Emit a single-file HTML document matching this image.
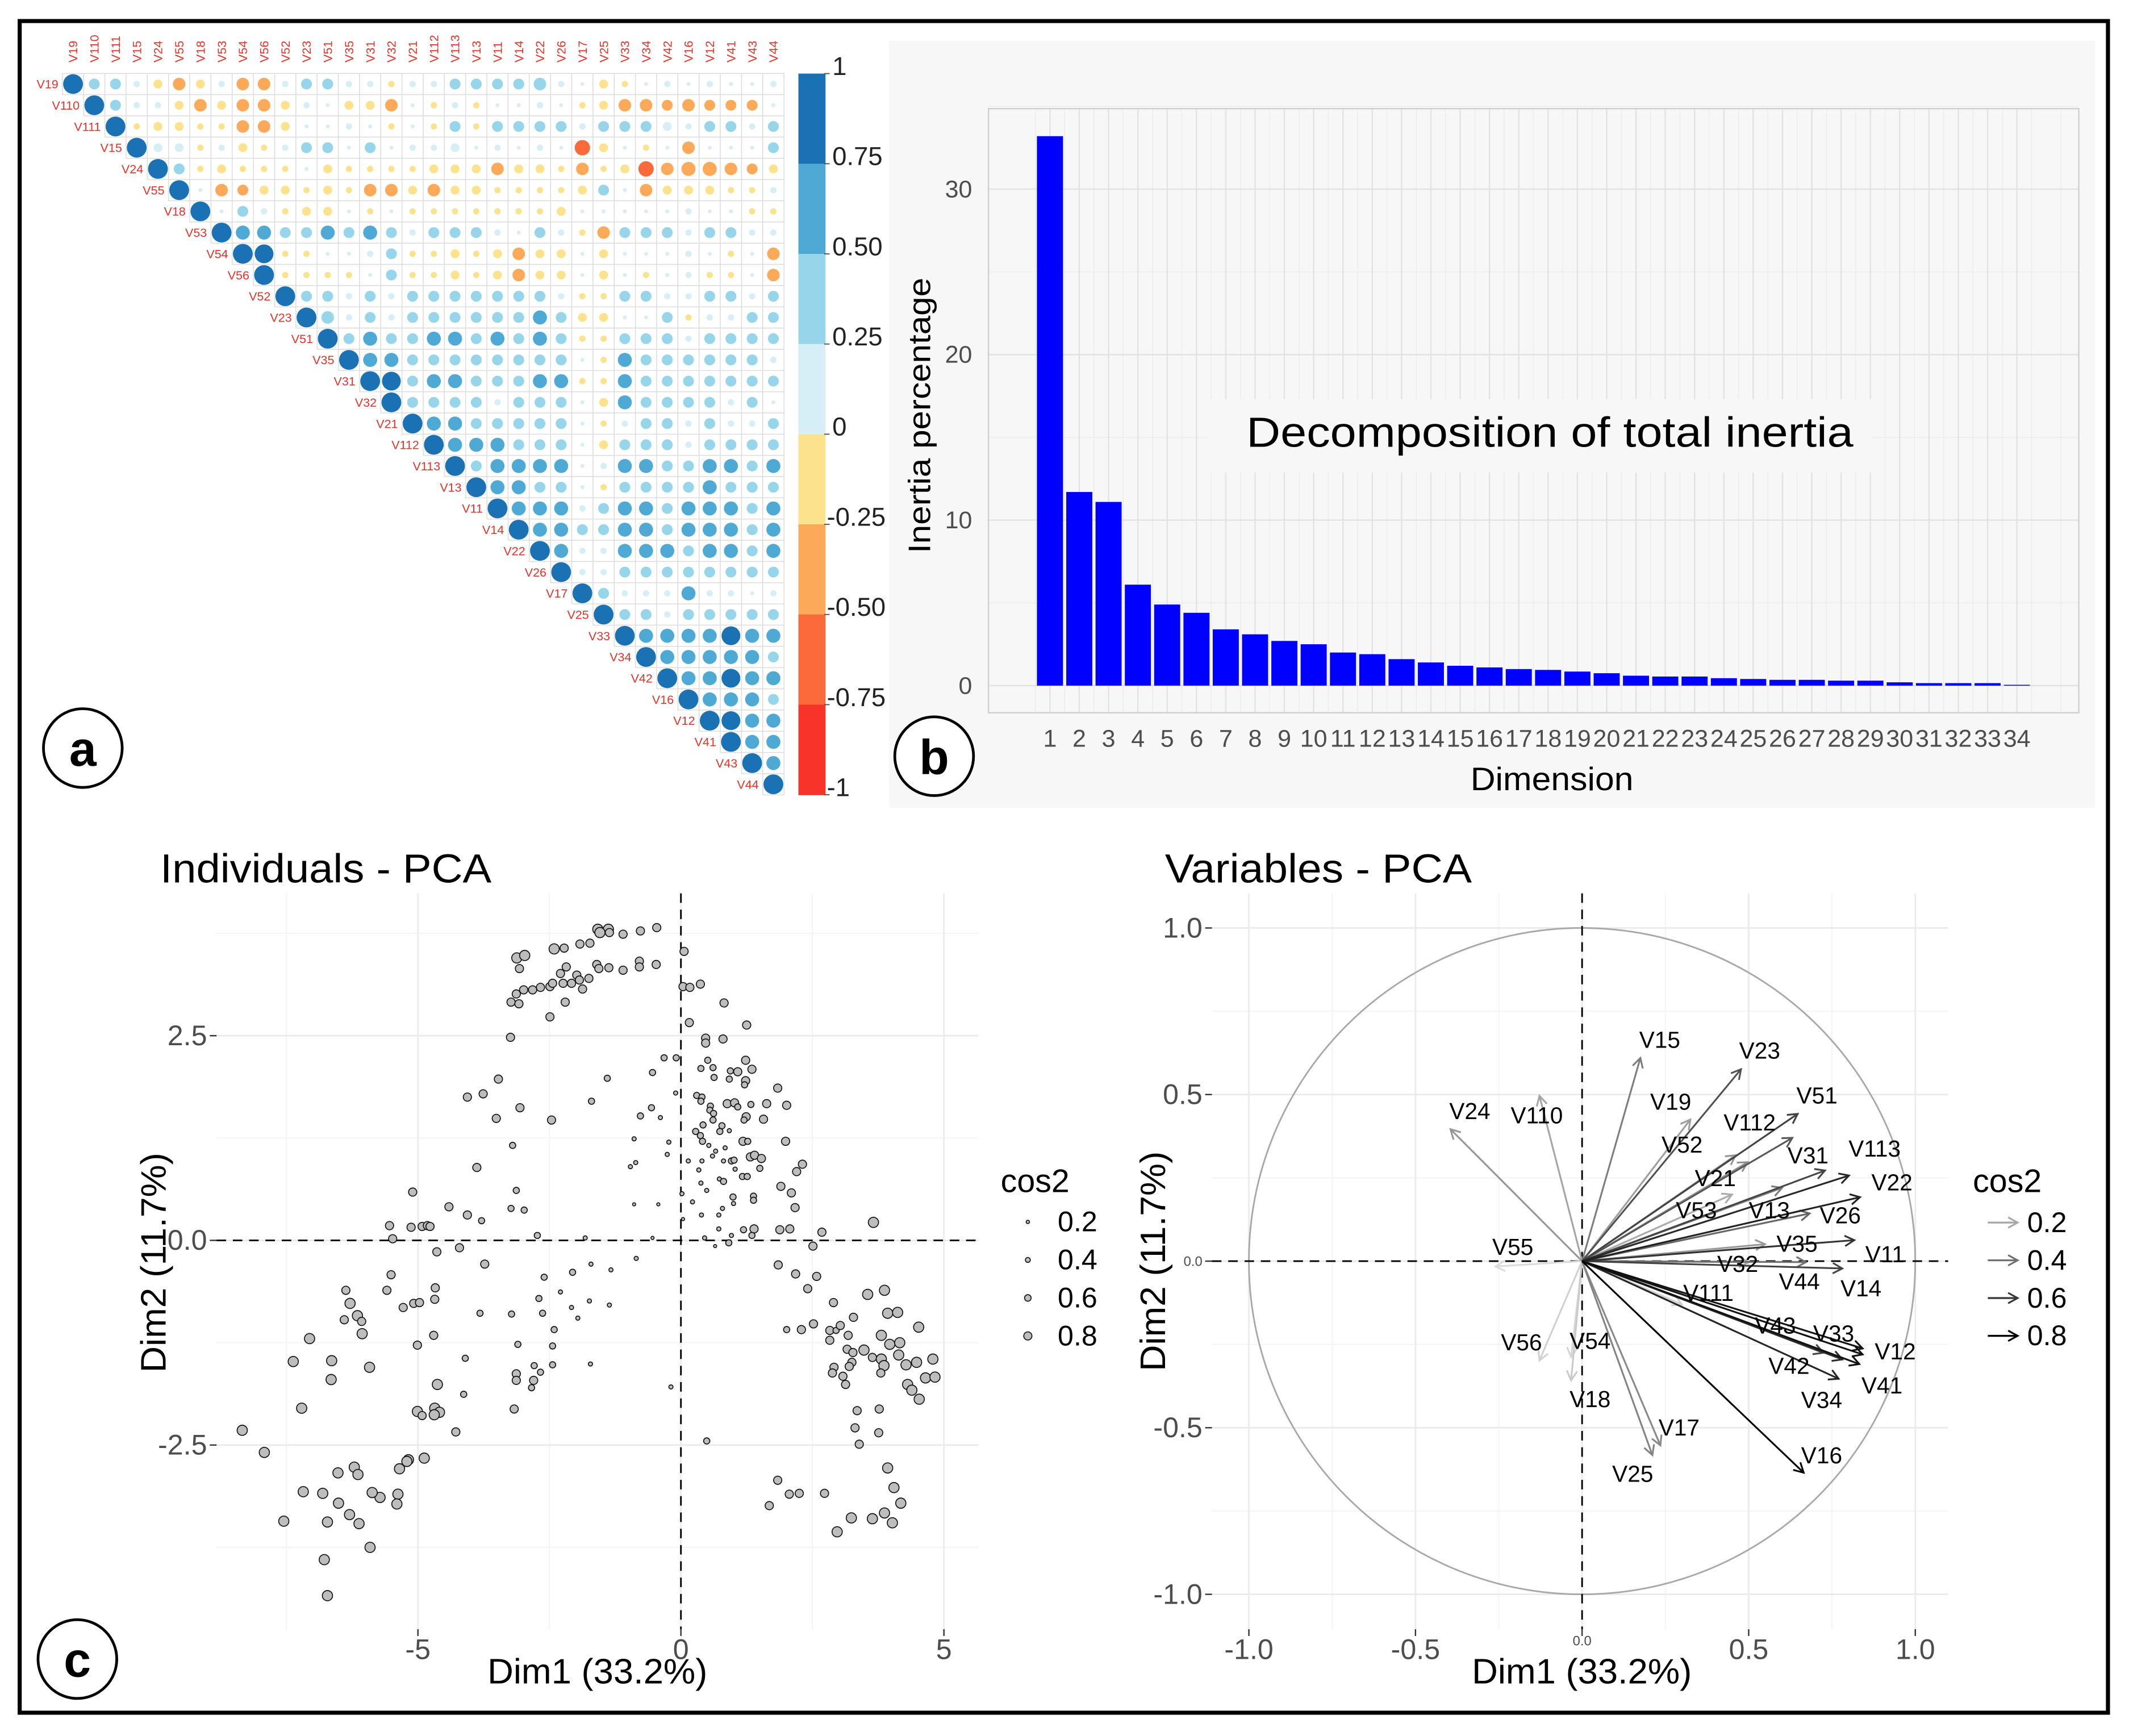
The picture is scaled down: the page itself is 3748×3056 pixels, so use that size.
<!DOCTYPE html>
<html><head><meta charset="utf-8"><title>PCA figure</title>
<style>
html,body{margin:0;padding:0;background:#fff;}
svg{display:block;font-family:"Liberation Sans",Arial,sans-serif;}
</style></head>
<body>
<svg id="fig" xmlns="http://www.w3.org/2000/svg" viewBox="0 0 1568 1278.66" width="3748" height="3056" preserveAspectRatio="none">
  <rect x="0" y="0" width="1568" height="1278.66" fill="#fff"/>
  <g id="corr"></g>
  <g id="bars"></g>
  <g id="ind"></g>
  <g id="var"></g>
  <rect x="14.5" y="15.5" width="1538" height="1246" fill="none" stroke="#000" stroke-width="3"/>
  <g>
    <circle cx="61" cy="551" r="29" fill="#fff" stroke="#000" stroke-width="2"/>
    <text x="61" y="564" text-anchor="middle" font-size="36" font-weight="bold">a</text>
  </g>
  <g>
    <circle cx="688" cy="557" r="29" fill="#fff" stroke="#000" stroke-width="2"/>
    <text x="688" y="570" text-anchor="middle" font-size="36" font-weight="bold">b</text>
  </g>
  <g>
    <circle cx="57" cy="1222" r="29" fill="#fff" stroke="#000" stroke-width="2"/>
    <text x="57" y="1235" text-anchor="middle" font-size="36" font-weight="bold">c</text>
  </g>
</svg>
<script>
// ===== Panel a: correlation matrix data =====
const corrVars = ["V19","V110","V111","V15","V24","V55","V18","V53","V54","V56","V52","V23","V51","V35","V31","V32","V21","V112","V113","V13","V11","V14","V22","V26","V17","V25","V33","V34","V42","V16","V12","V41","V43","V44"];
// digits = +d/10, letters a..i = -0.1..-0.9 (upper triangle rows, right of diagonal)
const corrRows = [
"331bdb1dd13311a113333410ba0101001",
"311bdbddb10bbd0a1a0010abddcdccc0",
"abbaaddb0010a0a3a33331333213313",
"22a1ba13303011201010fb0a0d0003",
"3abaaa0baaaabbbdbbadabfdeedcb",
"0dcbbabaddbdbbaaaab30dbbbaa1",
"031abb0a0aaaaaaab00000100aa",
"5533535313331031ad33313311",
"9aa0013aababdbb0b00010a0d",
"aaaa03aababdbb0b0a01aa0d",
"3313133333331aa33113313",
"413133333353bb003a1133",
"35335535353aa33313333",
"55333333330a53333331",
"935533355aa53333333",
"333313330b53333130",
"55333330a13313113",
"5553330b33313333",
"355550155335535",
"55330a33335333",
"5551355355535",
"553355355535",
"51155535535",
"1133333333",
"311151101",
"33133333",
"5555955",
"555553",
"55955",
"5553",
"955",
"55",
"5"
];
const colorbarTicks = ["1","0.75","0.50","0.25","0","-0.25","-0.50","-0.75","-1"];

// ===== Panel b: inertia =====
const dims = [1,2,3,4,5,6,7,8,9,10,11,12,13,14,15,16,17,18,19,20,21,22,23,24,25,26,27,28,29,30,31,32,33,34];
const inertia = [33.2,11.7,11.1,6.1,4.9,4.4,3.4,3.1,2.7,2.5,2.0,1.9,1.6,1.4,1.2,1.1,1.0,0.95,0.85,0.75,0.6,0.55,0.55,0.45,0.4,0.35,0.35,0.3,0.3,0.2,0.15,0.15,0.15,0.05];
const inertiaTicks = [0,10,20,30];

// ===== Panel c left: individuals =====
const indX = [
-1.58,-1.38,-1.54,-1.36,-1.10,-0.77,-0.46,-2.41,-2.22,-1.92,-1.73,-3.12,-2.97,-3.07,-2.18,-2.29,-1.98,-1.60,-1.56,-1.37,-1.10,-0.79,-0.79,-0.47,-3.13,-2.99,-2.82,-2.67,-2.49,-2.44,-2.24,-2.08,-1.93,-1.75,-1.87,-3.23,-3.08,-2.20,-2.49,-3.24,
-3.47,-4.06,-3.76,-3.06,-3.51,-2.46,-1.70,-1.40,-0.54,-0.32,-0.09,-0.10,-0.77,-0.56,-0.39,-0.89,-0.23,-0.26,-0.96,-0.86,-0.89,-0.43,-3.20,-3.88,-3.13,-3.23,-2.98,-4.06,-3.79,-4.41,-5.10,-5.54,-5.48,-5.13,-4.92,-4.82,-4.77,-2.73,-1.82,-0.54,
-4.21,-4.64,-3.73,-2.60,-2.06,-1.71,-1.33,-0.85,-5.51,-5.59,-6.37,-6.29,-6.15,-6.07,-6.40,-6.06,-5.28,-5.08,-4.97,-4.67,-4.68,-3.82,-3.22,-2.70,-2.63,-2.29,-2.08,-1.96,-1.74,-1.36,
-2.41,-2.44,-2.44,-1.72,-3.10,-3.13,-3.13,-2.79,-2.67,-2.80,-2.84,-3.17,-4.10,-4.13,-4.28,-4.70,-5.01,-4.63,-5.01,-4.92,-4.68,-4.59,-4.69,-4.88,-5.18,-5.21,-5.35,-5.38,-5.40,-5.72,-5.87,-5.91,
-7.06,-7.37,-6.64,-6.65,-5.92,-7.21,-8.34,-7.92,-6.52,-6.21,-6.14,-7.18,-6.81,-6.51,-6.30,-6.12,-7.55,-6.72,-6.78,-6.72,-0.19,
0.06,0.04,0.17,0.37,0.82,0.16,1.25,0.47,0.47,0.80,0.51,0.38,0.61,0.94,1.08,1.23,1.35,0.92,0.63,1.23,1.21,1.84,0.30,0.40,0.38,0.56,0.55,0.62,0.61,0.88,1.02,1.08,1.33,1.63,2.01,1.57,1.24,1.20,
0.28,0.42,0.37,0.41,0.53,0.78,0.74,0.92,0.84,0.66,0.60,1.18,1.27,1.99,0.14,0.40,0.34,0.81,0.96,1.01,1.03,1.32,1.40,1.53,1.50,2.31,2.20,1.17,1.26,0.73,0.81,0.38,0.49,0.02,0.22,0.99,1.00,1.38,1.38,1.90,2.10,2.17,
0.39,0.72,0.79,0.04,0.72,1.19,1.39,1.88,2.07,2.68,3.66,0.96,1.35,0.45,0.91,0.65,2.51,1.85,2.18,2.58,2.41,2.90,3.55,3.87,3.28,3.93,4.12,4.52,
2.01,2.29,2.52,2.83,2.95,3.03,2.83,3.18,3.81,3.97,4.16,3.16,3.27,3.48,3.64,3.81,3.86,4.14,4.28,4.48,4.79,3.25,3.20,2.91,2.88,3.08,3.13,3.80,4.31,4.39,4.53,4.65,4.83,
3.35,3.77,3.31,3.76,3.39,0.49,3.93,4.05,4.18,3.87,4.02,3.64,3.24,2.97,1.84,2.06,2.25,2.73,1.68
];
const indY = [
3.80,3.80,3.76,3.76,3.74,3.78,3.82,3.56,3.57,3.62,3.63,3.45,3.48,3.32,3.34,3.26,3.24,3.37,3.32,3.33,3.30,3.41,3.34,3.37,3.01,3.06,3.06,3.09,3.10,3.14,3.14,3.14,3.18,3.20,3.07,2.91,2.89,2.91,2.73,2.48,
1.97,1.75,1.79,1.62,1.49,1.47,1.70,1.98,2.05,2.23,2.23,1.80,1.52,1.62,1.50,1.24,1.20,1.05,0.90,0.95,0.44,0.44,1.16,0.89,0.61,0.39,0.37,0.31,0.24,0.41,0.59,0.18,0.02,0.16,0.17,0.18,0.17,0.06,0.03,0.03,
-0.09,-0.14,-0.29,-0.45,-0.39,-0.29,-0.36,-0.22,-0.42,-0.61,-0.61,-0.77,-0.92,-0.99,-0.97,-1.14,-0.82,-0.77,-0.76,-0.58,-0.72,-0.89,-0.90,-0.71,-0.89,-0.63,-0.82,-0.95,-0.74,-0.79,
-1.09,-1.29,-1.52,-1.51,-1.27,-1.63,-1.71,-1.53,-1.61,-1.71,-1.80,-2.06,-1.44,-1.88,-2.34,-1.16,-1.28,-1.76,-2.09,-2.14,-2.05,-2.10,-2.13,-2.66,-2.68,-2.70,-2.79,-3.10,-3.22,-3.14,-3.08,-3.75,
-1.20,-1.48,-1.47,-1.70,-1.55,-2.05,-2.32,-2.59,-2.84,-2.77,-2.86,-3.07,-3.09,-3.21,-3.35,-3.46,-3.43,-3.44,-3.90,-4.34,-1.79,
3.53,3.10,3.09,3.13,2.90,2.66,2.63,2.47,2.41,2.46,2.20,2.10,2.11,2.07,2.06,2.20,2.09,1.97,1.99,1.95,1.90,1.86,1.77,1.75,1.70,1.64,1.59,1.55,1.47,1.67,1.68,1.63,1.66,1.67,1.65,1.48,1.51,1.47,
1.33,1.41,1.28,1.21,1.16,1.40,1.33,1.34,1.13,1.09,1.03,1.21,1.21,1.21,0.97,0.97,0.86,0.97,0.97,0.98,0.87,1.02,1.04,1.00,0.88,0.93,0.84,0.78,0.78,0.75,0.72,0.70,0.61,0.57,0.47,0.53,0.45,0.54,0.49,0.66,0.58,0.40,
0.31,0.31,0.39,0.26,0.14,0.13,0.14,0.13,0.14,0.10,0.22,0.06,0.06,0.03,-0.03,-0.07,-0.07,-0.30,-0.41,-0.44,-0.59,-0.76,-0.66,-0.61,-0.94,-0.89,-0.88,-1.06,
-1.09,-1.09,-1.02,-1.10,-1.10,-1.04,-1.22,-1.16,-1.16,-1.27,-1.25,-1.33,-1.37,-1.34,-1.43,-1.45,-1.53,-1.40,-1.52,-1.49,-1.45,-1.49,-1.54,-1.55,-1.62,-1.66,-1.76,-1.62,-1.76,-1.83,-1.94,-1.68,-1.67,
-2.08,-2.06,-2.29,-2.35,-2.49,-2.45,-2.78,-3.02,-3.21,-3.33,-3.45,-3.40,-3.39,-3.56,-2.93,-3.10,-3.09,-3.09,-3.24
];
const indCos2 = [
.8,.8,.8,.6,.6,.6,.6,.8,.6,.6,.6,.8,.8,.6,.6,.6,.6,.6,.6,.6,.6,.6,.6,.6,.6,.6,.6,.6,.6,.6,.6,.6,.6,.6,.6,.6,.6,.6,.6,.6,
.6,.6,.6,.6,.6,.6,.4,.4,.4,.4,.4,.2,.4,.4,.2,.2,.2,.2,.2,.2,.1,.1,.4,.6,.4,.4,.4,.6,.4,.6,.6,.6,.6,.6,.6,.6,.6,.4,.2,.1,
.6,.6,.6,.4,.4,.2,.2,.2,.6,.6,.6,.8,.8,.6,.6,.8,.6,.6,.6,.6,.6,.4,.4,.4,.4,.2,.2,.2,.2,.2,
.4,.4,.4,.2,.4,.6,.6,.4,.4,.6,.4,.6,.4,.4,.6,.6,.6,.8,.8,.6,.8,.8,.8,.8,.8,.8,.8,.8,.8,.8,.8,.8,
.8,.8,.8,.8,.8,.8,.8,.8,.8,.8,.8,.8,.8,.8,.8,.8,.8,.8,.8,.8,.2,
.6,.6,.6,.6,.6,.6,.6,.6,.6,.6,.4,.4,.4,.4,.6,.6,.6,.4,.4,.6,.4,.6,.4,.4,.4,.4,.4,.4,.4,.6,.6,.4,.4,.6,.6,.6,.6,.4,
.4,.4,.4,.4,.2,.4,.4,.2,.2,.2,.2,.6,.4,.6,.2,.2,.2,.2,.4,.4,.2,.6,.6,.6,.4,.6,.6,.4,.4,.2,.4,.2,.2,.2,.2,.4,.2,.4,.4,.6,.6,.6,
.2,.2,.2,.1,.2,.4,.6,.6,.6,.6,.8,.2,.4,.2,.4,.1,.6,.6,.6,.6,.6,.6,.8,.8,.6,.8,.8,.8,
.4,.6,.6,.6,.4,.6,.6,.6,.8,.8,.8,.6,.6,.8,.6,.8,.8,.8,.8,.8,.8,.6,.6,.6,.6,.6,.6,.6,.8,.8,.8,.8,.8,
.6,.6,.6,.6,.6,.4,.8,.8,.8,.8,.8,.8,.8,.8,.6,.6,.6,.6,.6
];
const indXTicks = [-5,0,5];
const indYTicks = [-2.5,0,2.5];
const cos2Legend = [0.2,0.4,0.6,0.8];

// ===== Panel c right: variables =====
const varNames = ["V15","V23","V24","V110","V19","V51","V112","V52","V31","V113","V21","V22","V53","V13","V26","V35","V11","V32","V44","V14","V111","V43","V33","V12","V41","V42","V34","V16","V17","V25","V55","V56","V54","V18"];
const varDim1 = [0.175,0.477,-0.395,-0.128,0.325,0.647,0.631,0.461,0.729,0.801,0.497,0.834,0.45,0.60,0.683,0.549,0.817,0.50,0.672,0.781,0.30,0.724,0.842,0.842,0.832,0.781,0.770,0.665,0.235,0.211,-0.260,-0.128,-0.033,-0.033];
const varDim2 = [0.61,0.576,0.396,0.496,0.425,0.442,0.370,0.318,0.272,0.257,0.297,0.192,0.20,0.22,0.143,0.051,0.063,-0.003,-0.003,-0.022,-0.13,-0.275,-0.262,-0.280,-0.309,-0.295,-0.353,-0.635,-0.553,-0.582,-0.016,-0.298,-0.288,-0.358];
const varLabelDim1 = [0.233,0.533,-0.337,-0.136,0.266,0.705,0.503,0.30,0.678,0.878,0.40,0.930,0.343,0.562,0.775,0.645,0.909,0.467,0.652,0.837,0.379,0.580,0.755,0.940,0.900,0.621,0.719,0.719,0.291,0.152,-0.208,-0.182,0.024,0.024];
const varLabelDim2 = [0.665,0.632,0.451,0.438,0.479,0.498,0.417,0.35,0.318,0.338,0.25,0.237,0.153,0.153,0.138,0.053,0.021,-0.008,-0.061,-0.081,-0.095,-0.193,-0.217,-0.270,-0.373,-0.314,-0.416,-0.582,-0.499,-0.638,0.043,-0.243,-0.239,-0.414];
const varTicks = [-1.0,-0.5,0.0,0.5,1.0];
const varTickLabels = ["-1.0","-0.5","0.0","0.5","1.0"];

const NS = "http://www.w3.org/2000/svg";
function mk(parent, tag, attrs, text) {
  const e = document.createElementNS(NS, tag);
  for (const k in attrs) e.setAttribute(k, attrs[k]);
  if (text != null) e.textContent = text;
  parent.appendChild(e);
  return e;
}
function decode(ch) {
  const c = ch.charCodeAt(0);
  if (c >= 48 && c <= 57) { const d = c - 48; return d === 0 ? 0.04 : d / 10; }
  return -(c - 96) / 10;
}
function corrColor(v) {
  if (v >= 0.75) return "#1a72b5";
  if (v >= 0.5) return "#4eaad5";
  if (v >= 0.25) return "#97d5ea";
  if (v >= 0) return "#d6eef6";
  if (v >= -0.25) return "#fde28d";
  if (v >= -0.5) return "#fca95a";
  if (v >= -0.75) return "#fb6a3b";
  return "#f8332a";
}

// ---------- Panel a ----------
(function () {
  const g = document.getElementById('corr');
  const x0 = 53.8, y0 = 61.9, s = 15.63;
  const n = corrVars.length;
  for (let i = 0; i < n; i++) {
    for (let j = i; j < n; j++) {
      const v = (i === j) ? 1 : decode(corrRows[i][j - i - 1]);
      const cx = x0 + j * s, cy = y0 + i * s;
      const r = mk(g, 'rect', {x: cx - s / 2, y: cy - s / 2, width: s, height: s, fill: '#fff', stroke: '#dcdcdc', 'stroke-width': 0.6});
      
      
      const c = mk(g, 'circle', {cx: cx, cy: cy, r: 7.3 * Math.sqrt(Math.abs(v)), fill: corrColor(v)});
      
      
    }
  }
  for (let i = 0; i < n; i++) {
    const t = mk(g, 'text', {x: x0 + i * s - s / 2 - 3, y: y0 + i * s + 3.2, 'text-anchor': 'end', 'font-size': 9, fill: '#e5332a'}, corrVars[i]);
    
    
    const tc = mk(g, 'text', {transform: 'translate(' + (x0 + i * s + 3.2) + ',46) rotate(-90)', 'text-anchor': 'start', 'font-size': 9, fill: '#e5332a'}, corrVars[i]);
    
    
  }
  const cols = ["#1a72b5","#4eaad5","#97d5ea","#d6eef6","#fde28d","#fca95a","#fb6a3b","#f8332a"];
  const top = 54.2, h = 66.4;
  for (let k = 0; k < 8; k++) {
    const r = mk(g, 'rect', {x: 588, y: top + k * h, width: 20, height: h + 0.3, fill: cols[k]});
    
    
  }
  for (let k = 0; k < colorbarTicks.length; k++) {
    const yb = top + k * h;
    const l = mk(g, 'line', {x1: 607, x2: 611, y1: yb, y2: yb, stroke: '#555', 'stroke-width': 0.8});
    
    
    const t = mk(g, 'text', {x: colorbarTicks[k].startsWith('-') ? 609 : 613, y: yb + 1, 'font-size': 19, fill: '#222'}, colorbarTicks[k]);
    
    
  }
})();

// ---------- Panel b ----------
(function () {
  const g = document.getElementById('bars');
  const bg = mk(g, 'rect', {x: 655, y: 30, width: 888, height: 565, fill: '#f7f7f7'});
  
  
  const L = 728, R = 1531, T = 80, B = 525;
  const y0 = 505, per = 12.19;
  const yS = v => y0 - v * per;
  const c0 = 773.3, step = 21.58;
  const xS = i => c0 + i * step;
  for (let v = 5; v < 36; v += 10) {
    const l = mk(g, 'line', {x1: L, x2: R, y1: yS(v), y2: yS(v), stroke: '#ececec', 'stroke-width': 0.6});
    
    
  }
  for (let i = -1; i < dims.length + 1; i++) {
    const xm = xS(i) + step / 2;
    if (xm > L && xm < R) {
      const l = mk(g, 'line', {x1: xm, x2: xm, y1: T, y2: B, stroke: '#ececec', 'stroke-width': 0.6});
      
      
    }
  }
  for (let i = 0; i < dims.length; i++) {
    const l = mk(g, 'line', {x1: xS(i), x2: xS(i), y1: T, y2: B, stroke: '#e2e2e2', 'stroke-width': 1});
    
    
  }
  for (const v of inertiaTicks) {
    const l = mk(g, 'line', {x1: L, x2: R, y1: yS(v), y2: yS(v), stroke: '#e2e2e2', 'stroke-width': 1});
    
    
    const t = mk(g, 'text', {x: 716, y: yS(v) + 6, 'text-anchor': 'end', 'font-size': 18, fill: '#4d4d4d'}, String(v));
    
    
  }
  const frame = mk(g, 'rect', {x: L, y: T, width: R - L, height: B - T, fill: 'none', stroke: '#cfcfcf', 'stroke-width': 1});
  
  
  const tb = mk(g, 'rect', {x: 889, y: 294, width: 490, height: 54, fill: '#f7f7f7'});
  
  
  for (let i = 0; i < dims.length; i++) {
    const b = mk(g, 'rect', {x: xS(i) - 9.6, y: yS(inertia[i]), width: 19.2, height: inertia[i] * per, fill: '#0000ff'});
    
    
    const t = mk(g, 'text', {x: xS(i), y: 550, 'text-anchor': 'middle', 'font-size': 18, fill: '#4d4d4d'}, String(dims[i]));
    
    
  }
  const tt = mk(g, 'text', {x: 918, y: 329, 'font-size': 31, textLength: 447, lengthAdjust: 'spacingAndGlyphs', fill: '#000'}, 'Decomposition of total inertia');
  
  
  const yt = mk(g, 'text', {transform: 'translate(685,306) rotate(-90)', 'text-anchor': 'middle', 'font-size': 23, textLength: 203, lengthAdjust: 'spacingAndGlyphs'}, 'Inertia percentage');
  
  
  const xt = mk(g, 'text', {x: 1143, y: 582, 'text-anchor': 'middle', 'font-size': 24, textLength: 120, lengthAdjust: 'spacingAndGlyphs'}, 'Dimension');
  
  
})();

// ---------- Panel c left: individuals ----------
(function () {
  const g = document.getElementById('ind');
  const L = 159.5, R = 720.5, T = 658, B = 1200;
  const xS = v => 501.5 + v * 38.74;
  const yS = v => 913.6 - v * 60.3;
  const bgp = mk(g, 'rect', {x: L, y: T, width: R - L, height: B - T, fill: '#fff'});
  
  
  for (const v of [-7.5, -2.5, 2.5]) {
    const l = mk(g, 'line', {x1: xS(v), x2: xS(v), y1: T, y2: B, stroke: '#f3f3f3', 'stroke-width': 0.8});
    
    
  }
  for (const v of [-3.75, -1.25, 1.25, 3.75]) {
    const l = mk(g, 'line', {x1: L, x2: R, y1: yS(v), y2: yS(v), stroke: '#f3f3f3', 'stroke-width': 0.8});
    
    
  }
  for (const v of indXTicks) {
    const l = mk(g, 'line', {x1: xS(v), x2: xS(v), y1: T, y2: B, stroke: '#ebebeb', 'stroke-width': 1.2});
    
    
    const tk = mk(g, 'line', {x1: xS(v), x2: xS(v), y1: B, y2: B + 5, stroke: '#333', 'stroke-width': 1});
    
    
    const t = mk(g, 'text', {x: xS(v), y: 1222, 'text-anchor': 'middle', 'font-size': 21, fill: '#4d4d4d'}, String(v));
    
    
  }
  for (const v of indYTicks) {
    const l = mk(g, 'line', {x1: L, x2: R, y1: yS(v), y2: yS(v), stroke: '#ebebeb', 'stroke-width': 1.2});
    
    
    const tk = mk(g, 'line', {x1: L - 5, x2: L, y1: yS(v), y2: yS(v), stroke: '#333', 'stroke-width': 1});
    
    
    const t = mk(g, 'text', {x: L - 7, y: yS(v) + 7, 'text-anchor': 'end', 'font-size': 21, fill: '#4d4d4d'}, v.toFixed(1));
    
    
  }
  const hz = mk(g, 'line', {x1: L, x2: R, y1: yS(0), y2: yS(0), stroke: '#000', 'stroke-width': 1.2, 'stroke-dasharray': '7,5'});
  
  
  const vt = mk(g, 'line', {x1: xS(0), x2: xS(0), y1: T, y2: B, stroke: '#000', 'stroke-width': 1.2, 'stroke-dasharray': '7,5'});
  
  
  const rad = c => 0.8 + 3.7 * c;
  for (let i = 0; i < indX.length; i++) {
    const p = mk(g, 'circle', {cx: xS(indX[i]), cy: yS(indY[i]), r: rad(indCos2[i]), fill: '#bdbdbd', stroke: '#111', 'stroke-width': 0.7});
    
    
  }
  const title = mk(g, 'text', {x: 118, y: 650, 'font-size': 30, textLength: 244, lengthAdjust: 'spacingAndGlyphs'}, 'Individuals - PCA');
  
  
  const xt = mk(g, 'text', {x: 440, y: 1240, 'text-anchor': 'middle', 'font-size': 26, textLength: 162, lengthAdjust: 'spacingAndGlyphs'}, 'Dim1 (33.2%)');
  
  
  const yt = mk(g, 'text', {transform: 'translate(122,930) rotate(-90)', 'text-anchor': 'middle', 'font-size': 26, textLength: 162, lengthAdjust: 'spacingAndGlyphs'}, 'Dim2 (11.7%)');
  
  
  const lt = mk(g, 'text', {x: 737, y: 878, 'font-size': 24}, 'cos2');
  
  
  for (let k = 0; k < cos2Legend.length; k++) {
    const yy = 900 + k * 28;
    const c = mk(g, 'circle', {cx: 757, cy: yy, r: rad(cos2Legend[k]) * 0.8, fill: '#bdbdbd', stroke: '#111', 'stroke-width': 0.7});
    
    
    const t = mk(g, 'text', {x: 779, y: yy + 7, 'font-size': 21}, cos2Legend[k].toFixed(1));
    
    
  }
})();

// ---------- Panel c right: variables ----------
(function () {
  const g = document.getElementById('var');
  const L = 892.6, R = 1434.8, T = 658, B = 1200;
  const cx0 = 1165.2, cy0 = 928.9, u = 245.4;
  const xS = v => cx0 + v * u;
  const yS = v => cy0 - v * u;
  for (const v of [-0.75, -0.25, 0.25, 0.75]) {
    const l1 = mk(g, 'line', {x1: xS(v), x2: xS(v), y1: T, y2: B, stroke: '#f3f3f3', 'stroke-width': 0.8});
    
    
    const l2 = mk(g, 'line', {x1: L, x2: R, y1: yS(v), y2: yS(v), stroke: '#f3f3f3', 'stroke-width': 0.8});
    
    
  }
  for (let k = 0; k < varTicks.length; k++) {
    const v = varTicks[k];
    const l1 = mk(g, 'line', {x1: xS(v), x2: xS(v), y1: T, y2: B, stroke: '#ebebeb', 'stroke-width': 1.2});
    
    
    const l2 = mk(g, 'line', {x1: L, x2: R, y1: yS(v), y2: yS(v), stroke: '#ebebeb', 'stroke-width': 1.2});
    
    
    const small = (v === 0);
    const tx = mk(g, 'line', {x1: xS(v), x2: xS(v), y1: B, y2: B + 5, stroke: '#333', 'stroke-width': 1});
    
    
    const ty = mk(g, 'line', {x1: L - 5, x2: L, y1: yS(v), y2: yS(v), stroke: '#333', 'stroke-width': 1});
    
    
    const t1 = mk(g, 'text', {x: xS(v), y: small ? 1212 : 1222, 'text-anchor': 'middle', 'font-size': small ? 10 : 21, fill: '#4d4d4d'}, varTickLabels[k]);
    
    
    const t2 = mk(g, 'text', {x: L - 7, y: yS(v) + (small ? 3.5 : 7), 'text-anchor': 'end', 'font-size': small ? 10 : 21, fill: '#4d4d4d'}, varTickLabels[k]);
    
    
  }
  const circ = mk(g, 'circle', {cx: cx0, cy: cy0, r: u, fill: 'none', stroke: '#a8a8a8', 'stroke-width': 1.2});
  
  
  const hz = mk(g, 'line', {x1: L, x2: R, y1: cy0, y2: cy0, stroke: '#000', 'stroke-width': 1.2, 'stroke-dasharray': '7,5'});
  
  
  const vt = mk(g, 'line', {x1: cx0, x2: cx0, y1: T, y2: B, stroke: '#000', 'stroke-width': 1.2, 'stroke-dasharray': '7,5'});
  
  
  function gray(c2) {
    let t = (c2 - 0.05) / 0.8; t = Math.max(0, Math.min(1, t));
    const gv = Math.round(224 * (1 - t));
    return 'rgb(' + gv + ',' + gv + ',' + gv + ')';
  }
  function arrowHead(parent, x1, y1, x2, y2, col, len) {
    const a = Math.atan2(y2 - y1, x2 - x1);
    const p1 = [x2 - len * Math.cos(a - 0.5), y2 - len * Math.sin(a - 0.5)];
    const p2 = [x2 - len * Math.cos(a + 0.5), y2 - len * Math.sin(a + 0.5)];
    return mk(parent, 'polyline', {points: p1.join(',') + ' ' + x2 + ',' + y2 + ' ' + p2.join(','), fill: 'none', stroke: col, 'stroke-width': 1.3});
  }
  const order = varNames.map((n, i) => i).sort((a, b) => (varDim1[a] ** 2 + varDim2[a] ** 2) - (varDim1[b] ** 2 + varDim2[b] ** 2));
  for (const i of order) {
    const c2 = varDim1[i] ** 2 + varDim2[i] ** 2;
    const col = gray(c2);
    const x2 = xS(varDim1[i]), y2 = yS(varDim2[i]);
    const ln = mk(g, 'line', {x1: cx0, y1: cy0, x2: x2, y2: y2, stroke: col, 'stroke-width': 1.3});
    
    
    const h = arrowHead(g, cx0, cy0, x2, y2, col, 8);
    
    
  }
  for (let i = 0; i < varNames.length; i++) {
    const t = mk(g, 'text', {x: xS(varLabelDim1[i]), y: yS(varLabelDim2[i]) + 6, 'text-anchor': 'middle', 'font-size': 17, fill: '#000'}, varNames[i]);
    
    
  }
  const title = mk(g, 'text', {x: 858, y: 650, 'font-size': 30, textLength: 226, lengthAdjust: 'spacingAndGlyphs'}, 'Variables - PCA');
  
  
  const xt = mk(g, 'text', {x: 1165, y: 1240, 'text-anchor': 'middle', 'font-size': 26, textLength: 162, lengthAdjust: 'spacingAndGlyphs'}, 'Dim1 (33.2%)');
  
  
  const yt = mk(g, 'text', {transform: 'translate(858,929) rotate(-90)', 'text-anchor': 'middle', 'font-size': 26, textLength: 162, lengthAdjust: 'spacingAndGlyphs'}, 'Dim2 (11.7%)');
  
  
  const lt = mk(g, 'text', {x: 1453, y: 878, 'font-size': 24}, 'cos2');
  
  
  for (let k = 0; k < cos2Legend.length; k++) {
    const yy = 900.5 + k * 27.8;
    const col = gray(cos2Legend[k] + 0.05);
    const l = mk(g, 'line', {x1: 1464, x2: 1486, y1: yy, y2: yy, stroke: col, 'stroke-width': 1.4});
    
    
    const h = arrowHead(g, 1464, yy, 1486, yy, col, 8);
    
    
    const t = mk(g, 'text', {x: 1493, y: yy + 7, 'font-size': 21}, cos2Legend[k].toFixed(1));
    
    
  }
})();
</script>
</body></html>
